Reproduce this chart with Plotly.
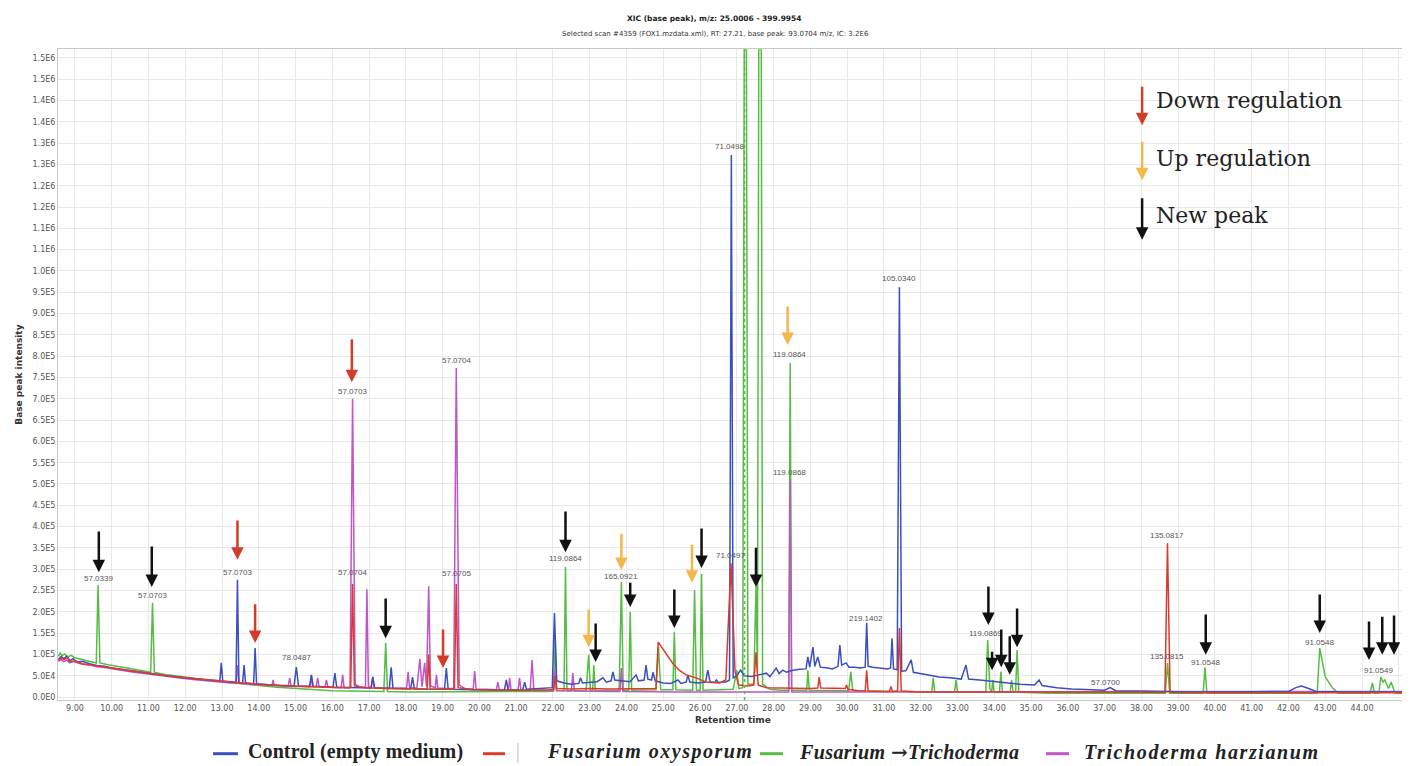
import plotly.graph_objects as go

# ---------------- data (retention time [min], intensity [x1000 counts]) ----------------
control_pts = [
    (8.55, 88), (8.62, 95), (8.7, 90), (8.78, 96), (8.85, 84), (8.95, 90), (9.0, 86), (9.1, 82), (9.2, 84), (9.4, 78),
    (9.6, 74), (9.8, 72), (10.0, 68), (10.3, 64), (10.6, 60), (11.0, 56), (11.4, 51), (11.8, 47), (12.2, 43), (12.6, 40),
    (12.94, 38), (12.98, 80), (13.02, 37), (13.38, 34), (13.42, 275), (13.46, 34), (13.56, 33), (13.6, 75), (13.64, 33),
    (13.86, 31), (13.9, 115), (13.94, 31), (14.3, 29), (14.6, 27), (14.96, 26), (15.02, 70), (15.08, 26),
    (15.38, 25), (15.43, 52), (15.48, 25), (16.02, 23), (16.07, 56), (16.12, 23), (17.05, 21), (17.1, 47), (17.15, 21),
    (17.55, 20), (17.6, 70), (17.65, 20), (18.13, 19), (18.18, 47), (18.23, 19), (19.05, 18), (19.1, 68), (19.15, 18),
    (19.9, 17), (20.3, 16), (20.68, 16), (20.73, 40), (20.78, 16), (21.18, 17), (21.23, 35), (21.28, 18),
    (21.7, 20), (21.98, 22), (22.04, 197), (22.1, 38), (22.3, 33), (22.5, 30), (22.7, 32), (22.75, 45), (22.8, 33),
    (23.0, 34), (23.2, 36), (23.36, 45), (23.45, 35), (23.58, 38), (23.63, 59), (23.68, 40), (23.9, 38), (24.1, 36),
    (24.26, 52), (24.32, 38), (24.48, 40), (24.53, 75), (24.58, 42), (24.68, 40), (24.72, 58), (24.78, 38),
    (25.0, 33), (25.2, 32), (25.4, 40), (25.48, 32), (25.62, 35), (25.67, 52), (25.72, 35), (25.95, 33),
    (26.15, 35), (26.21, 63), (26.27, 36), (26.4, 34), (26.44, 40), (26.5, 34), (26.7, 35),
    (26.8, 40), (26.85, 1272), (26.9, 45), (27.0, 50), (27.1, 63), (27.2, 50), (27.4, 48), (27.6, 52), (27.8, 56),
    (27.9, 48), (28.07, 68), (28.15, 55), (28.25, 63), (28.35, 58), (28.5, 62), (28.7, 65),
    (28.88, 66), (28.93, 94), (28.98, 70), (29.07, 117), (29.12, 72), (29.2, 94), (29.27, 70), (29.47, 68),
    (29.6, 66), (29.75, 72), (29.8, 122), (29.85, 75), (29.97, 80), (30.05, 70), (30.2, 70), (30.35, 68),
    (30.49, 70), (30.53, 174), (30.57, 72), (30.7, 70), (30.9, 68), (31.1, 66), (31.18, 68), (31.22, 138),
    (31.26, 66), (31.36, 64), (31.42, 962), (31.48, 60), (31.6, 62), (31.74, 87), (31.8, 58), (32.0, 55),
    (32.3, 50), (32.5, 47), (32.8, 45), (33.1, 42), (33.23, 75), (33.3, 42), (33.6, 40), (33.9, 37), (34.3, 33),
    (34.7, 30), (35.1, 28), (35.22, 40), (35.3, 27), (35.7, 22), (36.1, 19), (36.5, 17), (37.0, 16), (37.15, 22),
    (37.3, 15), (37.9, 14), (38.5, 13), (39.5, 12), (40.5, 12), (41.5, 12), (42.0, 13), (42.2, 22), (42.35, 26),
    (42.55, 20), (42.75, 13), (43.5, 12), (44.5, 12), (45.25, 12),
]

fusarium_pts = [
    (8.55, 86), (8.62, 92), (8.7, 88), (8.8, 93), (8.9, 82), (9.0, 85), (9.2, 78), (9.6, 73), (10.0, 67), (10.5, 61),
    (11.0, 55), (11.5, 50), (12.0, 45), (12.5, 41), (13.0, 37), (13.5, 33), (14.0, 30), (14.5, 27), (15.0, 25),
    (15.5, 24), (16.0, 23), (16.45, 22), (16.5, 24), (16.55, 265), (16.6, 26), (16.9, 22), (17.5, 20), (18.0, 19),
    (18.58, 19), (18.62, 100), (18.66, 19), (19.0, 18), (19.32, 18), (19.37, 265), (19.42, 22), (19.8, 17),
    (20.5, 16), (21.2, 16), (21.9, 17), (22.02, 18), (22.06, 50), (22.1, 20), (22.5, 19), (23.0, 20), (23.5, 19),
    (24.0, 20), (24.5, 20), (24.8, 20), (24.86, 129), (25.08, 103), (25.25, 80), (25.43, 63), (25.62, 52),
    (25.89, 45), (26.17, 35), (26.53, 33), (26.7, 40), (26.84, 314), (26.95, 60), (27.05, 28), (27.3, 26),
    (27.46, 28), (27.52, 105), (27.58, 28), (27.8, 22), (28.2, 21), (28.6, 20), (29.0, 20), (29.2, 21),
    (29.24, 47), (29.28, 21), (29.6, 20), (29.95, 20), (29.98, 28), (30.02, 18), (30.3, 15), (30.49, 14),
    (30.53, 63), (30.57, 14), (31.0, 13), (31.15, 13), (31.19, 25), (31.23, 13), (31.37, 14), (31.42, 162),
    (31.47, 14), (32.0, 12), (33.0, 12), (34.0, 12), (35.0, 11), (36.0, 11), (37.0, 11), (38.0, 11),
    (38.64, 11), (38.71, 361), (38.78, 11), (39.5, 10), (41.0, 10), (43.0, 10), (45.25, 10),
]

fus_tricho_pts = [
    (8.55, 96), (8.6, 103), (8.65, 97), (8.72, 101), (8.8, 94), (8.9, 98), (9.0, 92), (9.2, 88), (9.4, 84),
    (9.58, 80), (9.63, 263), (9.68, 80), (9.9, 76), (10.2, 72), (10.5, 67), (10.8, 62), (11.06, 58), (11.11, 221),
    (11.16, 58), (11.5, 52), (12.0, 46), (12.5, 41), (13.0, 36), (13.5, 31), (14.0, 27), (14.5, 23), (15.0, 20),
    (15.5, 17), (16.0, 15), (16.5, 14), (17.0, 13), (17.4, 13), (17.45, 127), (17.5, 13), (18.0, 12), (19.0, 12),
    (20.0, 12), (21.0, 12), (21.8, 13), (22.02, 14), (22.06, 140), (22.1, 15), (22.3, 15), (22.34, 305),
    (22.38, 15), (22.9, 15), (22.97, 99), (23.02, 15), (23.08, 15), (23.11, 75), (23.15, 15), (23.8, 16),
    (23.86, 270), (23.91, 16), (24.06, 16), (24.10, 200), (24.14, 16), (24.8, 17), (24.87, 117), (24.93, 17),
    (25.26, 17), (25.30, 153), (25.34, 17), (25.8, 16), (25.85, 251), (25.9, 16), (26.0, 16), (26.04, 289),
    (26.08, 16), (26.9, 18), (27.0, 63), (27.05, 20), (27.16, 22), (27.23, 2600), (27.3, 30), (27.46, 30),
    (27.52, 260), (27.56, 60), (27.63, 2900), (27.7, 30), (27.9, 18), (28.2, 16), (28.41, 16), (28.45, 784),
    (28.49, 16), (28.9, 16), (28.93, 63), (28.97, 16), (29.5, 15), (30.04, 15), (30.1, 59), (30.15, 15),
    (30.5, 14), (31.0, 13), (31.4, 13), (32.0, 12), (32.3, 12), (32.34, 45), (32.38, 12), (32.92, 12),
    (32.96, 40), (33.0, 12), (33.5, 11), (33.77, 11), (33.82, 134), (33.88, 20), (33.93, 12), (33.96, 40),
    (33.99, 12), (34.14, 11), (34.18, 60), (34.22, 11), (34.43, 11), (34.47, 40), (34.51, 11), (34.58, 11),
    (34.62, 110), (34.67, 11), (35.5, 9), (37.0, 9), (38.65, 9), (38.71, 80), (38.77, 9), (39.68, 9),
    (39.73, 70), (39.78, 9), (42.78, 9), (42.85, 115), (43.0, 47), (43.2, 21), (43.35, 9), (44.22, 9),
    (44.28, 33), (44.34, 9), (44.46, 10), (44.51, 47), (44.57, 35), (44.62, 40), (44.72, 20), (44.79, 35),
    (44.9, 9), (45.25, 9),
]

tricho_pts = [
    (8.55, 84), (8.62, 88), (8.7, 83), (8.78, 87), (8.85, 80), (8.95, 84), (9.0, 82), (9.2, 77), (9.4, 75),
    (9.6, 71), (9.8, 69), (10.0, 66), (10.3, 62), (10.6, 58), (11.0, 54), (11.4, 49), (11.8, 45), (12.2, 41),
    (12.6, 38), (13.0, 35), (13.38, 32), (13.42, 75), (13.46, 32), (13.8, 30), (14.2, 28), (14.36, 27),
    (14.39, 40), (14.42, 27), (14.8, 25), (14.84, 45), (14.88, 25), (15.2, 24), (15.4, 24), (15.43, 50),
    (15.47, 24), (15.56, 24), (15.6, 45), (15.64, 24), (15.8, 23), (15.84, 40), (15.88, 23), (16.1, 22),
    (16.24, 22), (16.28, 52), (16.32, 22), (16.48, 22), (16.55, 700), (16.62, 30), (16.75, 23), (16.9, 23),
    (16.94, 253), (16.98, 24), (17.06, 22), (17.1, 47), (17.14, 22), (17.5, 21), (17.8, 21), (18.02, 21),
    (18.06, 59), (18.1, 21), (18.3, 21), (18.38, 89), (18.44, 24), (18.51, 80), (18.56, 25), (18.62, 260),
    (18.67, 26), (18.8, 22), (18.83, 52), (18.87, 21), (19.1, 20), (19.3, 20), (19.37, 772), (19.45, 28),
    (19.6, 20), (19.83, 19), (19.87, 61), (19.91, 19), (20.2, 18), (20.46, 17), (20.5, 35), (20.54, 17),
    (20.79, 16), (20.82, 45), (20.86, 16), (21.05, 16), (21.09, 45), (21.13, 16), (21.38, 16), (21.43, 87),
    (21.48, 16), (21.8, 15), (22.0, 15), (22.04, 63), (22.09, 15), (22.5, 14), (22.54, 56), (22.58, 14),
    (23.0, 13), (23.5, 13), (23.82, 13), (23.86, 68), (23.9, 13), (24.5, 12), (25.5, 12), (26.5, 12),
    (27.5, 12), (28.41, 12), (28.45, 509), (28.49, 12), (29.0, 12), (30.0, 12), (32.0, 12), (35.0, 12),
    (38.0, 12), (40.0, 13), (42.0, 13), (45.25, 13),
]

series_names = ["Control (empty medium)", "Fusarium oxysporum",
                'Fusarium <span style="font-family:DejaVu Serif">→</span>Trichoderma', "Trichoderma harzianum"]
series_italic = [False, True, True, True]
series_colors = ["#3b4fbf", "#dc3b2c", "#55bd43", "#c054c8"]

selected_rt = 27.21

# peak labels: (rt, intensity k, text)
peak_labels = [
    (9.63, 279, "57.0339"), (11.11, 239, "57.0703"), (13.42, 293, "57.0703"), (15.02, 92, "78.0487"),
    (16.55, 716, "57.0703"), (16.55, 293, "57.0704"), (19.37, 791, "57.0704"), (19.37, 291, "57.0705"),
    (22.34, 324, "119.0864"), (23.86, 284, "165.0921"), (26.84, 333, "71.0497"), (26.8, 1291, "71.0498"),
    (28.43, 803, "119.0864"), (28.43, 526, "119.0868"), (31.42, 983, "105.0340"), (30.51, 185, "219.1402"),
    (33.77, 150, "119.0869"), (37.03, 33, "57.0700"), (38.70, 378, "135.0817"), (38.70, 96, "135.0815"),
    (39.73, 82, "91.0548"), (42.85, 127, "91.0548"), (44.46, 63, "91.0549"),
]

# arrows: (rt, tail intensity k, tip intensity k)
new_peak_arrows = [
    (9.65, 392, 293), (11.09, 357, 258), (17.45, 235, 138), (22.34, 439, 340), (23.16, 176, 82),
    (24.10, 272, 211), (25.30, 256, 162), (26.04, 399, 303), (27.52, 354, 258), (33.84, 263, 169),
    (33.94, 110, 63), (34.19, 162, 70), (34.42, 146, 52), (34.62, 211, 117), (39.75, 197, 99),
    (42.85, 244, 150), (44.19, 181, 87), (44.55, 192, 99), (44.87, 195, 99),
]
down_arrows = [(13.42, 418, 322), (13.90, 221, 127), (16.53, 843, 739), (19.01, 162, 68)]
up_arrows = [(22.97, 209, 117), (23.86, 387, 298), (25.78, 361, 268), (28.38, 920, 826)]

key_items = [("Down regulation", 1436, 1342, 1399), ("Up regulation", 1307, 1213, 1265), ("New peak", 1174, 1073, 1131)]
key_rt = 38.02
key_text_rt = 38.33

x_ticks = list(range(9, 46))
y_tickvals = list(range(0, 1501, 50))
y_ticktext = ["0.0E0", "5.0E4", "1.0E5", "1.5E5", "2.0E5", "2.5E5", "3.0E5", "3.5E5", "4.0E5", "4.5E5",
              "5.0E5", "5.5E5", "6.0E5", "6.5E5", "7.0E5", "7.5E5", "8.0E5", "8.5E5", "9.0E5", "9.5E5",
              "1.0E6", "1.1E6", "1.1E6", "1.2E6", "1.2E6", "1.3E6", "1.3E6", "1.4E6", "1.4E6", "1.5E6", "1.5E6"]

# ---------------- figure ----------------
fig = go.Figure()
all_pts = [control_pts, fusarium_pts, fus_tricho_pts, tricho_pts]
draw_order = [2, 3, 0, 1]
for i in draw_order:
    pts = all_pts[i]
    fig.add_trace(go.Scatter(x=[p[0] for p in pts], y=[p[1] for p in pts], mode="lines",
                             name=series_names[i],
                             line=dict(color=series_colors[i], width=1.5), showlegend=False,
                             hoverinfo="skip"))

fig.add_shape(type="line", x0=selected_rt, x1=selected_rt, y0=0, y1=1, yref="paper", xref="x",
              line=dict(color="#55bd43", width=1.5, dash="dot"))

ann = []
lab_font = dict(family="Liberation Sans, Arial", size=8, color="#555555")
for rt, v, t in peak_labels:
    ann.append(dict(x=rt, y=v, text=t, showarrow=False, font=lab_font, xanchor="center", yanchor="middle"))

def arrow(rt, tail, tip, color):
    return dict(x=rt, y=tip, ax=rt, ay=tail, axref="x", ayref="y", xref="x", yref="y", text="",
                showarrow=True, arrowhead=2, arrowsize=1.0, arrowwidth=2.5, arrowcolor=color, standoff=0)

for rt, tail, tip in new_peak_arrows:
    ann.append(arrow(rt, tail, tip, "#111111"))
for rt, tail, tip in down_arrows:
    ann.append(arrow(rt, tail, tip, "#d23c28"))
for rt, tail, tip in up_arrows:
    ann.append(arrow(rt, tail, tip, "#f2b84b"))

key_colors = ["#d23c28", "#f2b84b", "#111111"]
for (txt, tail, tip, ty), c in zip(key_items, key_colors):
    ann.append(arrow(key_rt, tail, tip, c))
    ann.append(dict(x=key_text_rt, y=ty, text=txt, showarrow=False, xanchor="left", yanchor="middle",
                    font=dict(family="DejaVu Serif", size=22, color="#222222")))

# titles
ann.append(dict(x=0.486, y=1.0476, xref="paper", yref="paper", text="<b>XIC (base peak), m/z: 25.0006 - 399.9954</b>",
                showarrow=False, font=dict(family="DejaVu Sans", size=7.5, color="#222222"), xanchor="center", yanchor="middle"))
ann.append(dict(x=0.4874, y=1.023, xref="paper", yref="paper",
                text="Selected scan #4359 (FOX1.mzdata.xml), RT: 27.21, base peak: 93.0704 m/z, IC: 3.2E6",
                showarrow=False, font=dict(family="DejaVu Sans", size=7, color="#333333"), xanchor="center", yanchor="middle"))
ann.append(dict(x=0.5, y=-0.031, xref="paper", yref="paper", text="<b>Retention time</b>", showarrow=False,
                font=dict(family="DejaVu Sans", size=9, color="#333333"), xanchor="center", yanchor="middle"))
ann.append(dict(x=-0.0295, y=0.5, xref="paper", yref="paper", text="<b>Base peak intensity</b>", showarrow=False,
                textangle=-90, font=dict(family="DejaVu Sans", size=9, color="#333333"), xanchor="center", yanchor="middle"))

# manual legend (swatch start/end, text start in paper coords)
legend_swatch_x = [(0.1148, 0.1333), (0.3148, 0.3311), (0.52, 0.537), (0.7319, 0.7489)]
legend_text_x = [0.14, 0.3615, 0.5481, 0.7593]
legend_spacing = [0.1, 1.5, 0.4, 1.6]
legend_y = -0.0795
for i in range(4):
    x0, x1 = legend_swatch_x[i]
    fig.add_shape(type="line", xref="paper", yref="paper", x0=x0, x1=x1, y0=legend_y - 0.003, y1=legend_y - 0.003,
                  line=dict(color=series_colors[i], width=3))
    txt = series_names[i]
    if series_italic[i]:
        txt = "<i>" + txt + "</i>"
    txt = '<span style="letter-spacing:%spx">%s</span>' % (legend_spacing[i], txt)
    ann.append(dict(x=legend_text_x[i], y=legend_y, xref="paper", yref="paper", text="<b>" + txt + "</b>",
                    showarrow=False, xanchor="left", yanchor="middle", borderpad=0,
                    font=dict(family="Liberation Serif", size=20, color="#222222")))
fig.add_shape(type="line", xref="paper", yref="paper", x0=0.3407, x1=0.3407, y0=-0.066, y1=-0.097,
              line=dict(color="#bbbbbb", width=1))

# the page adds an 8 px body margin, so the figure is 8 px smaller and margins 8 px less at left/top
fig.update_layout(
    width=1402, height=758,
    margin=dict(l=50, r=2, t=41, b=66, autoexpand=False),
    paper_bgcolor="white", plot_bgcolor="white",
    annotations=ann,
    showlegend=False,
    xaxis=dict(range=[8.54, 45.25], tickvals=x_ticks, tickformat=".2f", showgrid=True, gridcolor="#e8e8e8",
               gridwidth=1, zeroline=False, showline=True, linecolor="#c8c8c8", mirror=True, ticks="",
               automargin=False, tickfont=dict(family="DejaVu Sans", size=8, color="#555555")),
    yaxis=dict(range=[-7, 1521], tickvals=y_tickvals, ticktext=y_ticktext, showgrid=True, gridcolor="#e8e8e8",
               gridwidth=1, zeroline=False, showline=True, linecolor="#c8c8c8", mirror=True, ticks="",
               automargin=False, tickfont=dict(family="DejaVu Sans", size=8, color="#555555")),
)

fig.write_html("out.html")
